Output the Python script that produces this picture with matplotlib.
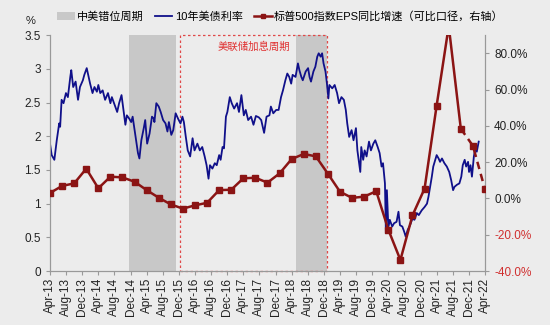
import matplotlib
matplotlib.use('Agg')
import matplotlib.pyplot as plt
from matplotlib.patches import Patch, Rectangle
from matplotlib.lines import Line2D
from matplotlib.ticker import FuncFormatter

plt.rcParams['font.family'] = ['Liberation Sans', 'Noto Sans CJK SC', 'DejaVu Sans']

# 10y treasury yield (%), x in decimal years
ust_t = [2013.25, 2013.285, 2013.34, 2013.39, 2013.44, 2013.46, 2013.49, 2013.53, 2013.58, 2013.62,
         2013.67, 2013.69, 2013.73, 2013.78, 2013.83, 2013.87, 2013.93, 2013.96, 2014.01, 2014.05,
         2014.08, 2014.13, 2014.17, 2014.22, 2014.25, 2014.29, 2014.34, 2014.39, 2014.45, 2014.50,
         2014.53, 2014.59, 2014.64, 2014.68, 2014.73, 2014.77, 2014.81, 2014.84, 2014.89, 2014.93,
         2014.96, 2015.00, 2015.03, 2015.07, 2015.10, 2015.14, 2015.19, 2015.22, 2015.26, 2015.31,
         2015.36, 2015.40, 2015.41, 2015.45, 2015.50, 2015.54, 2015.59, 2015.64, 2015.68, 2015.71,
         2015.76, 2015.80, 2015.85, 2015.90, 2015.95, 2015.99, 2016.02, 2016.06, 2016.10, 2016.15,
         2016.20, 2016.24, 2016.30, 2016.35, 2016.40, 2016.45, 2016.49, 2016.53, 2016.56, 2016.61,
         2016.66, 2016.70, 2016.75, 2016.78, 2016.82, 2016.85, 2016.89, 2016.92, 2016.97, 2017.01,
         2017.06, 2017.12, 2017.16, 2017.21, 2017.26, 2017.30, 2017.35, 2017.41, 2017.46, 2017.51,
         2017.57, 2017.62, 2017.68, 2017.73, 2017.79, 2017.82, 2017.87, 2017.93, 2017.98, 2018.03,
         2018.07, 2018.12, 2018.16, 2018.20, 2018.24, 2018.27, 2018.33, 2018.38, 2018.41, 2018.45,
         2018.48, 2018.54, 2018.59, 2018.62, 2018.65, 2018.70, 2018.74, 2018.78, 2018.81, 2018.85,
         2018.88, 2018.91, 2018.95, 2018.98, 2019.01, 2019.03, 2019.09, 2019.14, 2019.19, 2019.23,
         2019.28, 2019.33, 2019.37, 2019.40, 2019.44, 2019.49, 2019.53, 2019.58, 2019.61, 2019.65,
         2019.67, 2019.69, 2019.73, 2019.76, 2019.80, 2019.85, 2019.89, 2019.94, 2019.98, 2020.03,
         2020.07, 2020.11, 2020.14, 2020.18, 2020.20, 2020.22, 2020.25, 2020.28, 2020.33, 2020.37,
         2020.42, 2020.46, 2020.49, 2020.54, 2020.58, 2020.61, 2020.65, 2020.70, 2020.75, 2020.79,
         2020.84, 2020.88, 2020.94, 2021.00, 2021.05, 2021.08, 2021.11, 2021.15, 2021.18, 2021.22,
         2021.25, 2021.29, 2021.32, 2021.36, 2021.41, 2021.46, 2021.51, 2021.55, 2021.59, 2021.62,
         2021.67, 2021.72, 2021.76, 2021.79, 2021.83, 2021.86, 2021.90, 2021.92, 2021.95, 2021.98,
         2022.02, 2022.05, 2022.08, 2022.12]
ust_y = [1.89, 1.72, 1.65, 1.94, 2.19, 2.14, 2.54, 2.49, 2.64, 2.58,
         2.88, 2.98, 2.73, 2.81, 2.54, 2.73, 2.83, 2.91, 3.01, 2.88,
         2.78, 2.64, 2.73, 2.66, 2.76, 2.64, 2.68, 2.54, 2.64, 2.49,
         2.58, 2.46, 2.36, 2.49, 2.61, 2.39, 2.17, 2.31, 2.26, 2.21,
         2.29, 2.09, 1.94, 1.75, 1.67, 1.94, 2.12, 2.24, 1.89, 2.04,
         2.29, 2.26, 2.21, 2.49, 2.44, 2.36, 2.24, 2.19, 2.07, 2.21,
         2.02, 2.09, 2.34, 2.26, 2.19, 2.29, 2.21, 1.99, 1.79, 1.70,
         1.97, 1.79, 1.89, 1.79, 1.84, 1.70, 1.57, 1.37, 1.57, 1.52,
         1.60, 1.57, 1.72, 1.65, 1.84, 1.82, 2.29, 2.36, 2.58, 2.49,
         2.41, 2.49, 2.36, 2.61, 2.31, 2.39, 2.24, 2.29, 2.17, 2.30,
         2.28, 2.24, 2.05, 2.29, 2.31, 2.44, 2.34, 2.39, 2.39, 2.58,
         2.68, 2.83, 2.93, 2.88, 2.78, 2.91, 2.88, 3.08, 2.98, 2.88,
         2.83, 2.96, 3.01, 2.88, 2.81, 2.96, 3.03, 3.18, 3.23, 3.18,
         3.23, 3.08, 2.96, 2.78, 2.56, 2.76, 2.71, 2.76, 2.64, 2.49,
         2.58, 2.54, 2.39, 2.19, 1.99, 2.09, 1.94, 2.12, 1.79, 1.57,
         1.47, 1.84, 1.65, 1.79, 1.70, 1.92, 1.79, 1.89, 1.94, 1.84,
         1.75, 1.55, 1.60, 1.30, 0.56, 1.20, 0.66, 0.76, 0.66, 0.71,
         0.73, 0.88, 0.68, 0.66, 0.58, 0.51, 0.61, 0.68, 0.78, 0.76,
         0.86, 0.83, 0.90, 0.95, 1.00, 1.10, 1.23, 1.40, 1.55, 1.65,
         1.72, 1.67, 1.62, 1.67, 1.60, 1.55, 1.47, 1.35, 1.20, 1.25,
         1.28, 1.30, 1.40, 1.57, 1.65, 1.55, 1.62, 1.47, 1.57, 1.40,
         1.70, 1.82, 1.77, 1.92]

# S&P 500 EPS yoy (%), quarterly from Apr-13 to Apr-22
eps_t = [2013.25 + 0.25 * i for i in range(37)]
eps_y = [3.0, 6.9, 8.3, 16.4, 5.6, 12.0, 11.6, 9.2, 4.6, 0.4,
         -3.3, -5.6, -3.8, -2.4, 4.6, 4.8, 11.1, 11.4, 8.7, 13.8,
         21.7, 24.5, 23.2, 13.6, 3.7, 0.3, 1.0, 4.0, -17.2, -33.9,
         -9.3, 5.4, 51.2, 95.0, 38.4, 29.0, 5.0]
n_actual = 35  # last points are estimates (dashed)

shade_spans = [(2014.88, 2015.85), (2018.33, 2018.98)]
hike_span = (2015.94, 2018.98)

months = ['Apr', 'Aug', 'Dec']
xticks = [2013.25 + i / 3 for i in range(28)]
xlabels = [f"{months[i % 3]}-{13 + i // 3:02d}" for i in range(28)]

bg = '#ececec'
blue = '#10108a'
red = '#8b1414'
grey = '#c8c8c8'

fig = plt.figure(figsize=(5.5, 3.25), dpi=100, facecolor=bg)
ax = fig.add_axes([0.0909, 0.166, 0.7909, 0.726])
ax.set_facecolor(bg)
ax2 = ax.twinx()

for a, b in shade_spans:
    ax.axvspan(a, b, color=grey, lw=0, zorder=0)
ax.add_patch(Rectangle((hike_span[0], 0), hike_span[1] - hike_span[0], 3.5, fill=False,
                       ec='#e04848', ls=(0, (2, 2)), lw=0.9, zorder=1, clip_on=False))
ax.text((hike_span[0] + hike_span[1]) / 2, 3.33, '美联储加息周期', color='#e03030',
        fontsize=7.5, ha='center', va='center', family=['Noto Sans CJK SC'])

ax.plot(ust_t, ust_y, color=blue, lw=1.3, zorder=3)

ax2.plot(eps_t[:n_actual], eps_y[:n_actual], color=red, lw=1.8, marker='s', ms=3.8, zorder=4)
ax2.plot(eps_t[n_actual - 1:], eps_y[n_actual - 1:], color=red, lw=1.8, ls=(0, (3, 2)),
         marker='s', ms=3.8, markevery=[1, 2], zorder=4)

ax.set_xlim(2013.25, 2022.25)
ax.set_ylim(0, 3.5)
ax2.set_ylim(-40, 90)
ax.set_yticks([0, 0.5, 1, 1.5, 2, 2.5, 3, 3.5])
ax.yaxis.set_major_formatter(FuncFormatter(lambda v, p: f"{v:g}"))
ax2.set_yticks([-40, -20, 0, 20, 40, 60, 80])
ax2.yaxis.set_major_formatter(FuncFormatter(lambda v, p: f"{v:.1f}%"))
for lbl, v in zip(ax2.get_yticklabels(), [-40, -20, 0, 20, 40, 60, 80]):
    lbl.set_color('#d03030' if v < 0 else '#222222')

ax.set_xticks(xticks)
ax.set_xticklabels(xlabels, rotation=90, fontsize=8.5, color='#222222')
ax.tick_params(axis='y', labelsize=8.5, colors='#222222', length=3, color='#999999')
ax.tick_params(axis='x', length=3, color='#999999', pad=2)
ax2.tick_params(axis='y', labelsize=8.5, length=3, color='#999999')

for a in (ax, ax2):
    a.spines['top'].set_visible(False)
    for s in ('left', 'right', 'bottom'):
        a.spines[s].set_color('#999999')

fig.text(0.055, 0.935, '%', fontsize=8, color='#222222', ha='center', va='center')

handles = [Patch(color=grey, lw=0),
           Line2D([], [], color=blue, lw=1.3),
           Line2D([], [], color=red, lw=1.8, marker='s', ms=3.5)]
labels = ['中美错位周期', '10年美债利率', '标普500指数EPS同比增速（可比口径，右轴）']
fig.legend(handles, labels, loc='center left', bbox_to_anchor=(0.085, 0.95), ncol=3,
           frameon=False, handlelength=1.6, handletextpad=0.2, columnspacing=1.0,
           prop={'family': ['Liberation Sans', 'Noto Sans CJK SC'], 'size': 8})

fig.savefig('out.png', dpi=100, facecolor=bg)
